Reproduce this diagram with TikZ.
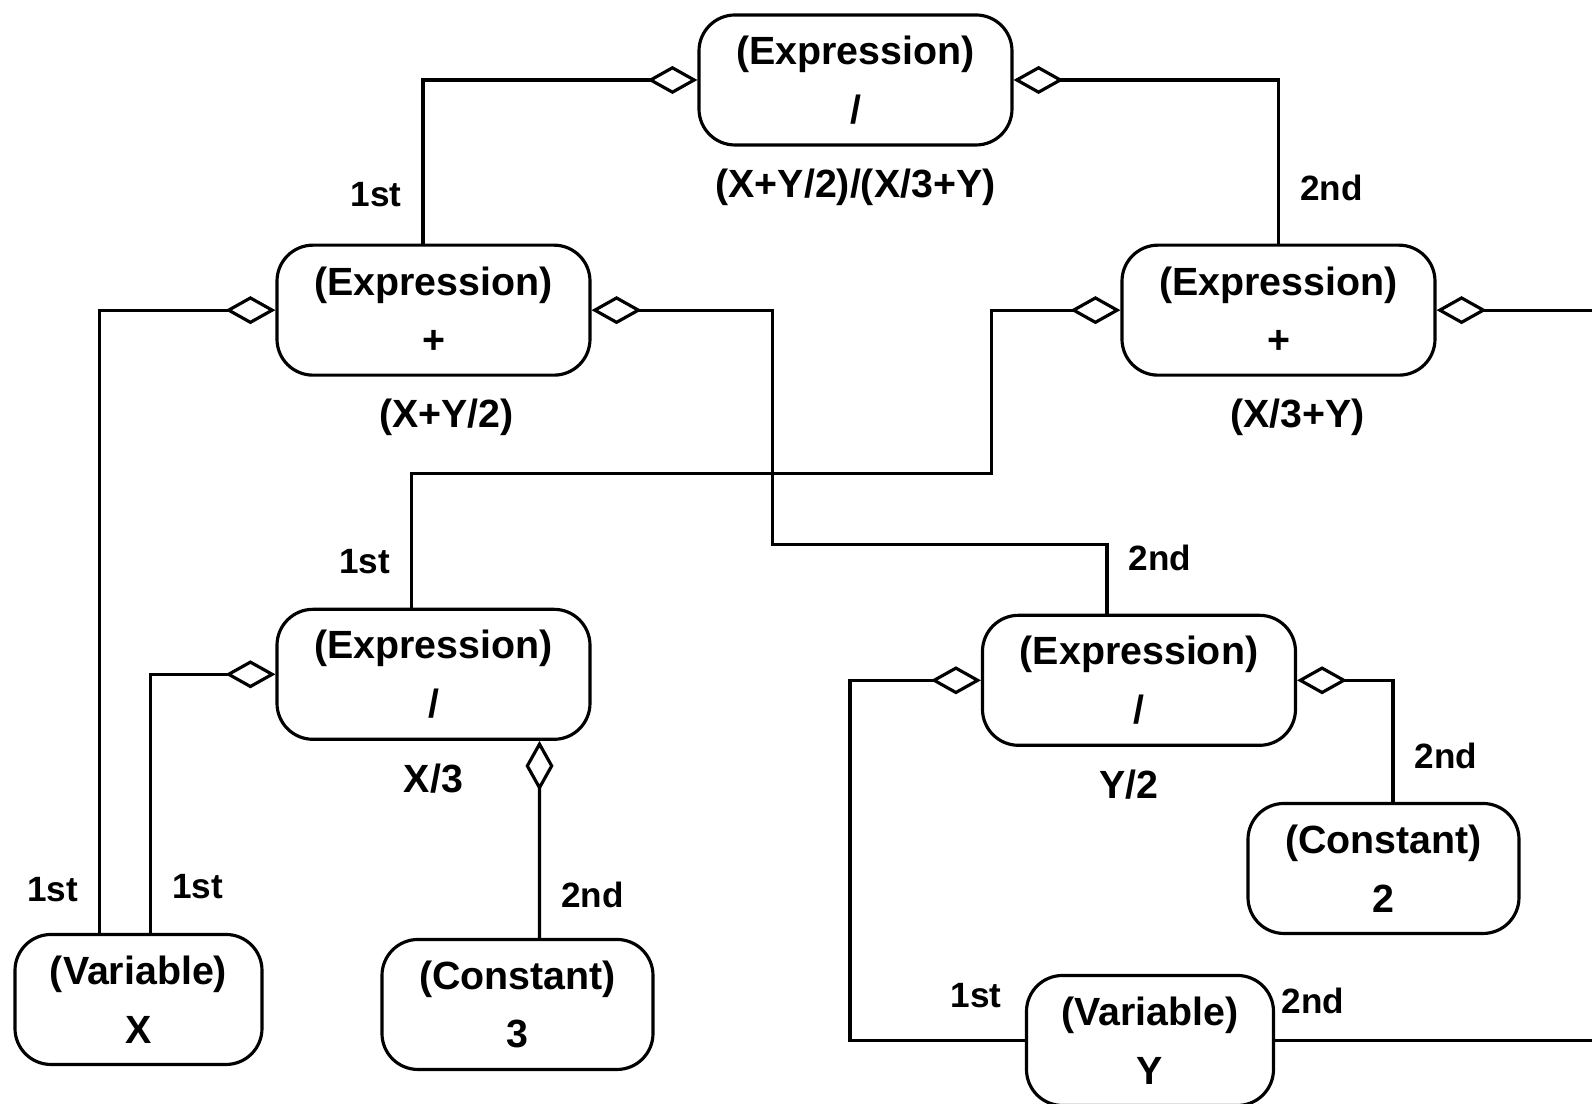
\documentclass[tikz,border=0pt]{standalone}
\usepackage{fontspec}
\setmainfont{Liberation Sans}
\usetikzlibrary{arrows.meta, positioning}

\begin{document}
\begin{tikzpicture}[
    node distance=1cm,
    roundbox/.style={
        rectangle, draw, line width=0.9pt, rounded corners=0.36cm,
        minimum height=1.3cm, inner sep=0pt, align=center,
        font=\fontsize{11.2}{16.7}\selectfont\bfseries
    },
    exprbox/.style={roundbox, minimum width=3.13cm},
    varbox/.style={roundbox, minimum width=2.47cm},
    constbox/.style={roundbox, minimum width=2.71cm},
    exprtext/.style={inner sep=0pt, font=\fontsize{11.2}{13}\selectfont\bfseries},
    rolelabel/.style={inner sep=0pt, font=\fontsize{10}{12}\selectfont\bfseries},
    aggr/.style={{Diamond[open, length=0.5cm, width=0.28cm]}-, line width=0.9pt},
    plain/.style={line width=0.9pt},
]

\useasboundingbox (0,0) rectangle (15.92,-11.04);
\coordinate (rim) at (15.92,0);

\node[exprbox] (top) at (8.555,-0.80) {(Expression)\\/};

\node[exprbox, below=0.97cm of top, xshift=-4.22cm] (plus1) {(Expression)\\+};
\node[exprbox, below=0.97cm of top, xshift= 4.23cm] (plus2) {(Expression)\\+};

\node[exprbox, below=2.31cm of plus1]                 (divx) {(Expression)\\/};
\node[exprbox, below=2.37cm of plus2, xshift=-1.395cm] (divy) {(Expression)\\/};

\node[varbox,   below=1.92cm of divx, xshift=-2.95cm]  (varx)   {(Variable)\\X};
\node[constbox, below=1.97cm of divx, xshift=0.84cm]   (const3) {(Constant)\\3};
\node[constbox, below=0.55cm of divy, xshift=2.445cm]  (const2) {(Constant)\\2};
\node[varbox,   below=2.27cm of divy, xshift=0.11cm]   (vary)   {(Variable)\\Y};

\node[exprtext, below=0.22cm of top]                 (topval)   {(X+Y/2)/(X/3+Y)};
\node[exprtext, below=0.22cm of plus1, xshift=0.13cm] (plus1val) {(X+Y/2)};
\node[exprtext, below=0.22cm of plus2, xshift=0.19cm] (plus2val) {(X/3+Y)};
\node[exprtext, below=0.22cm of divx]                (divxval)  {X/3};
\node[exprtext, below=0.22cm of divy, xshift=-0.1cm] (divyval)  {Y/2};

\draw[aggr] (top.west) -| node[rolelabel, pos=0.85, left=0.2cm] {1st} ([xshift=-0.105cm]plus1.north);
\draw[aggr] (top.east) -| node[rolelabel, pos=0.83, right=0.2cm] {2nd} (plus2.north);

\draw[aggr] (plus1.west) -| node[rolelabel, pos=0.965, left=0.2cm] {1st} ([xshift=-0.39cm]varx.north);
\draw[aggr] (plus1.east) -| ++(1.81,-2.34) -| node[rolelabel, pos=0.6, right=0.2cm] {2nd} ([xshift=-0.32cm]divy.north);
\draw[aggr] (plus2.west) -| ++(-1.29,-1.63) -| node[rolelabel, pos=0.83, left=0.2cm] {1st} ([xshift=-0.22cm]divx.north);
\draw[aggr] (plus2.east) -- (plus2.east -| rim);

\draw[aggr] (divx.west) -| node[rolelabel, pos=0.91, right=0.2cm] {1st} ([xshift=0.12cm]varx.north);
\draw[aggr] ([xshift=1.06cm]divx.south) -- node[rolelabel, pos=0.78, right=0.2cm] {2nd} ([xshift=0.22cm]const3.north);

\draw[aggr] (divy.west) -- ++(-1.31,0) |- node[rolelabel, pos=0.86, above=0.31cm] {1st} (vary.west);
\draw[aggr] (divy.east) -| node[rolelabel, pos=0.81, right=0.2cm] {2nd} ([xshift=0.095cm]const2.north);
\draw[plain] (vary.east) -- node[rolelabel, pos=0.12, above=0.25cm] {2nd} (vary.east -| rim);

\end{tikzpicture}
\end{document}
